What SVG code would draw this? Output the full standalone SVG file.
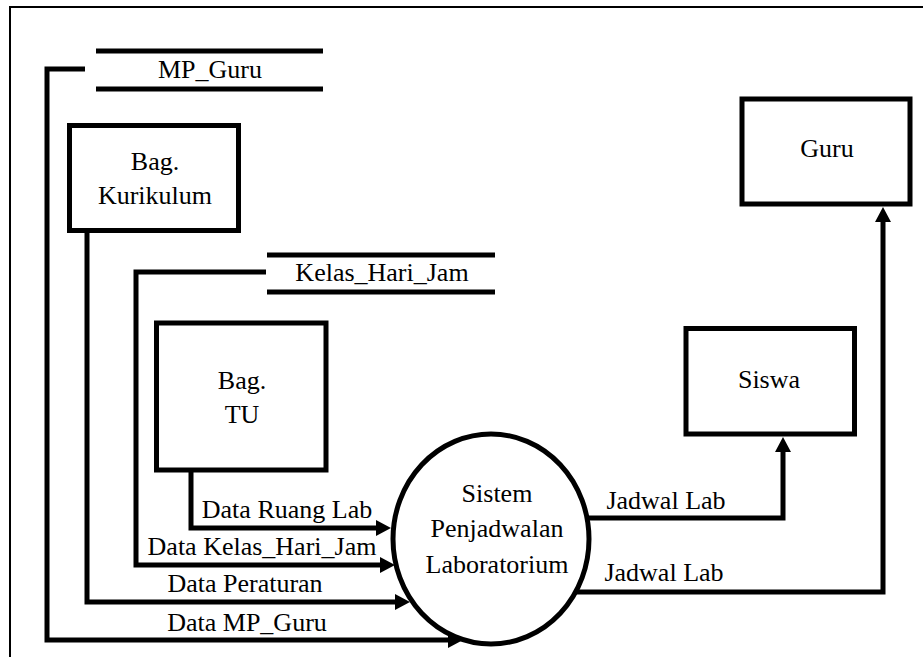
<svg xmlns="http://www.w3.org/2000/svg" width="923" height="657" viewBox="0 0 923 657">
<style>
text{font-family:"Liberation Serif","Times New Roman",serif;font-size:26px;fill:#000;text-anchor:middle}
.box{fill:#fff;stroke:#000;stroke-width:5}
.store{stroke:#000;stroke-width:5}
.flow{fill:none;stroke:#000;stroke-width:5;stroke-linejoin:miter}
.flowa{fill:none;stroke:#000;stroke-width:5;stroke-linejoin:miter;marker-end:url(#arr)}
</style>
<defs>
<marker id="arr" viewBox="0 0 15 16" refX="2" refY="8" markerWidth="15" markerHeight="16" markerUnits="userSpaceOnUse" orient="auto">
<path d="M0,0 L15,8 L0,16 z" fill="#000"/>
</marker>
</defs>
<rect width="923" height="657" fill="#fff"/>
<rect x="10" y="7" width="920" height="660" fill="none" stroke="#000" stroke-width="2"/>
<g id="connectors">
<path class="flowa" d="M85,69 H47 V640 H450"/>
<path class="flowa" d="M87,231 V602 H397"/>
<path class="flowa" d="M266,272 H136 V565 H382"/>
<path class="flowa" d="M191,470 V528 H378"/>
<path class="flowa" d="M586,518 H783 V450"/>
<path class="flowa" d="M574,592 H883 V220"/>
<text x="287" y="518">Data Ruang Lab</text>
<text x="262" y="555">Data Kelas_Hari_Jam</text>
<text x="245" y="592">Data Peraturan</text>
<text x="247" y="631">Data MP_Guru</text>
<text x="666" y="509">Jadwal Lab</text>
<text x="664" y="581">Jadwal Lab</text>
</g>
<g id="mp_guru">
<line class="store" x1="96" y1="51" x2="323" y2="51"/>
<line class="store" x1="96" y1="89" x2="323" y2="89"/>
<text x="210" y="78">MP_Guru</text>
</g>
<g id="kelas_hari_jam">
<line class="store" x1="267" y1="255" x2="495" y2="255"/>
<line class="store" x1="267" y1="292" x2="495" y2="292"/>
<text x="382" y="281">Kelas_Hari_Jam</text>
</g>
<g id="bag_kurikulum">
<rect class="box" x="69.5" y="125.5" width="169" height="105"/>
<text x="155" y="170">Bag.</text>
<text x="155" y="204">Kurikulum</text>
</g>
<g id="bag_tu">
<rect class="box" x="156.5" y="323" width="169.5" height="147"/>
<text x="242" y="389">Bag.</text>
<text x="242" y="423">TU</text>
</g>
<g id="sistem">
<ellipse class="box" cx="491" cy="539" rx="98" ry="105"/>
<text x="497" y="502">Sistem</text>
<text x="497" y="537">Penjadwalan</text>
<text x="497" y="573">Laboratorium</text>
</g>
<g id="siswa">
<rect class="box" x="686" y="328.5" width="168.5" height="105.5"/>
<text x="769" y="388">Siswa</text>
</g>
<g id="guru">
<rect class="box" x="742" y="99" width="168" height="105"/>
<text x="827" y="157">Guru</text>
</g>
</svg>
